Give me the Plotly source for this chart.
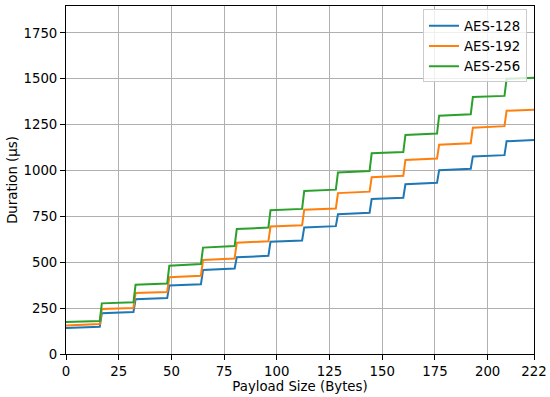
import plotly.graph_objects as go

block_starts = [0, 17, 33, 49, 65, 81, 97, 113, 129, 145, 161, 177, 193, 209]
block_ends = [16, 32, 48, 64, 80, 96, 112, 128, 144, 160, 176, 192, 208, 222]

aes128_start = [142, 222, 298, 373, 458, 527, 612, 690, 762, 845, 925, 1002, 1077, 1160]
aes128_end = [149, 229, 305, 380, 466, 535, 619, 697, 770, 852, 933, 1010, 1084, 1166]
aes192_start = [156, 245, 333, 419, 512, 607, 695, 786, 877, 964, 1058, 1141, 1234, 1326]
aes192_end = [163, 251, 338, 427, 521, 614, 702, 793, 885, 971, 1066, 1149, 1242, 1332]
aes256_start = [174, 276, 378, 481, 580, 681, 784, 889, 990, 1094, 1194, 1299, 1401, 1500]
aes256_end = [180, 282, 384, 490, 589, 689, 791, 896, 998, 1101, 1202, 1307, 1407, 1506]

x_ticks = [0, 25, 50, 75, 100, 125, 150, 175, 200, 222]
y_ticks = [0, 250, 500, 750, 1000, 1250, 1500, 1750]

series = [
    ("AES-128", aes128_start, aes128_end, "#1f77b4"),
    ("AES-192", aes192_start, aes192_end, "#ff7f0e"),
    ("AES-256", aes256_start, aes256_end, "#2ca02c"),
]

def build(starts, ends):
    xs, ys = [], []
    for xs0, xe0, s, e in zip(block_starts, block_ends, starts, ends):
        xs += [xs0, xe0]
        ys += [s, e]
    return xs, ys

fig = go.Figure()
for name, s, e, c in series:
    xs, ys = build(s, e)
    fig.add_trace(go.Scatter(x=xs, y=ys, mode="lines", name=name,
                             line=dict(color=c, width=2)))

font = dict(family="DejaVu Sans", size=13.3, color="black")
axis_common = dict(
    showgrid=True, gridcolor="#b0b0b0", gridwidth=1,
    showline=True, linecolor="black", linewidth=1, mirror=True,
    ticks="outside", ticklen=5, tickwidth=1, tickcolor="black",
    zeroline=False, tickfont=font, automargin=False,
)
fig.update_xaxes(range=[0, 222], tickvals=x_ticks, ticktext=[str(v) for v in x_ticks],
                 title=dict(text="Payload Size (Bytes)", font=font, standoff=3), **axis_common)
fig.update_yaxes(range=[0, 1897], tickvals=y_ticks,
                 title=dict(text="Duration (µs)", font=font, standoff=2), **axis_common)

fig.update_layout(
    width=550, height=397,
    margin=dict(l=66, r=16, t=6, b=43),
    plot_bgcolor="white", paper_bgcolor="white",
    font=font,
    legend=dict(x=0.985, y=0.99, xanchor="right", yanchor="top",
                bgcolor="rgba(255,255,255,0.8)", bordercolor="#cccccc", borderwidth=1,
                font=font, tracegroupgap=0),
)

fig.write_html("out.html", config={"displayModeBar": False},
               post_script="document.body.style.margin='0';document.body.style.overflow='hidden';")
